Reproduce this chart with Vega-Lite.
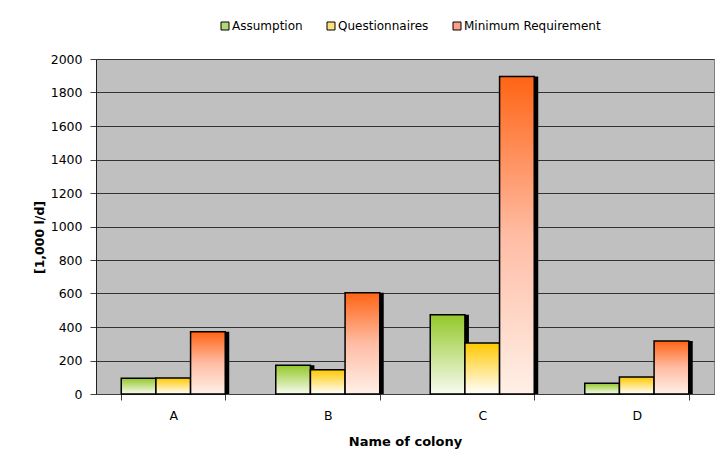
{
  "$schema": "https://vega.github.io/schema/vega-lite/v6.json",
  "width": 618,
  "height": 335,
  "autosize": {"type": "none"},
  "padding": {"left": 96, "top": 59, "right": 2, "bottom": 76},
  "background": "white",
  "config": {
    "view": {"fill": "#c0c0c0", "stroke": "#808080", "strokeWidth": 1},
    "font": "DejaVu Sans"
  },
  "data": {
    "values": [
      {"colony": "A", "series": "Assumption", "value": 94},
      {"colony": "A", "series": "Questionnaires", "value": 95},
      {"colony": "A", "series": "Minimum Requirement", "value": 372},
      {"colony": "B", "series": "Assumption", "value": 171},
      {"colony": "B", "series": "Questionnaires", "value": 145},
      {"colony": "B", "series": "Minimum Requirement", "value": 605},
      {"colony": "C", "series": "Assumption", "value": 473},
      {"colony": "C", "series": "Questionnaires", "value": 304},
      {"colony": "C", "series": "Minimum Requirement", "value": 1895},
      {"colony": "D", "series": "Assumption", "value": 64},
      {"colony": "D", "series": "Questionnaires", "value": 101},
      {"colony": "D", "series": "Minimum Requirement", "value": 316}
    ]
  },
  "encoding": {
    "x": {
      "field": "colony",
      "type": "nominal",
      "scale": {"paddingInner": 0.327, "paddingOuter": 0.1635},
      "axis": {
        "title": "Name of colony",
        "titleFontWeight": "bold",
        "titleFontSize": 13,
        "titleColor": "black",
        "titlePadding": 14,
        "labelAngle": 0,
        "labelFontSize": 12.5,
        "labelColor": "black",
        "labelPadding": 9,
        "tickBand": "extent",
        "tickSize": 6,
        "tickColor": "#404040",
        "domainColor": "#404040"
      }
    },
    "y": {
      "field": "value",
      "type": "quantitative",
      "scale": {"domain": [0, 2000], "nice": false},
      "axis": {
        "title": "[1,000 l/d]",
        "titleFontWeight": "bold",
        "titleFontSize": 12.5,
        "titleColor": "black",
        "titlePadding": 4,
        "titleY": 178,
        "values": [0, 200, 400, 600, 800, 1000, 1200, 1400, 1600, 1800, 2000],
        "format": "d",
        "labelFontSize": 12.5,
        "labelColor": "black",
        "labelPadding": 8,
        "tickSize": 6,
        "tickColor": "#404040",
        "domainColor": "#202020",
        "grid": true,
        "gridColor": "#333333",
        "gridWidth": 1,
        "gridOpacity": 1
      }
    }
  },
  "resolve": {"scale": {"xOffset": "independent"}},
  "layer": [
    {
      "mark": {"type": "bar", "fill": "black", "y2Offset": 3},
      "encoding": {
        "xOffset": {
          "field": "series",
          "type": "nominal",
          "sort": ["Assumption", "Questionnaires", "Minimum Requirement"],
          "scale": {"paddingInner": 0, "paddingOuter": 0, "range": [{"expr": "4"}, {"expr": "bandwidth('x') + 4"}]}
        }
      }
    },
    {
      "mark": {"type": "bar", "stroke": "black", "strokeWidth": 1.5},
      "encoding": {
        "xOffset": {
          "field": "series",
          "type": "nominal",
          "sort": ["Assumption", "Questionnaires", "Minimum Requirement"],
          "scale": {"paddingInner": 0, "paddingOuter": 0}
        },
        "fill": {
          "condition": [
            {
              "test": "datum.series === 'Assumption'",
              "value": {
                "gradient": "linear", "x1": 0, "y1": 0, "x2": 0, "y2": 1,
                "stops": [{"offset": 0, "color": "#94c82a"}, {"offset": 1, "color": "#f8fbf0"}]
              }
            },
            {
              "test": "datum.series === 'Questionnaires'",
              "value": {
                "gradient": "linear", "x1": 0, "y1": 0, "x2": 0, "y2": 1,
                "stops": [{"offset": 0, "color": "#ffc800"}, {"offset": 1, "color": "#ffffff"}]
              }
            }
          ],
          "value": {
            "gradient": "linear", "x1": 0, "y1": 0, "x2": 0, "y2": 1,
            "stops": [{"offset": 0, "color": "#ff6414"}, {"offset": 0.5, "color": "#ffbca4"}, {"offset": 1, "color": "#fff0e8"}]
          }
        }
      }
    },
    {
      "mark": {"type": "bar", "opacity": 0},
      "encoding": {
        "xOffset": {
          "field": "series",
          "type": "nominal",
          "sort": ["Assumption", "Questionnaires", "Minimum Requirement"],
          "scale": {"paddingInner": 0, "paddingOuter": 0}
        },
        "color": {
          "field": "series",
          "type": "nominal",
          "sort": ["Assumption", "Questionnaires", "Minimum Requirement"],
          "scale": {
            "domain": ["Assumption", "Questionnaires", "Minimum Requirement"],
            "range": ["#b0d878", "#ffe07a", "#ff9f86"]
          },
          "legend": {
            "orient": "none",
            "legendX": 123,
            "legendY": -39,
            "direction": "horizontal",
            "title": null,
            "symbolType": "square",
            "symbolSize": 64,
            "symbolStrokeColor": "black",
            "symbolStrokeWidth": 1,
            "symbolOpacity": 1,
            "columnPadding": 22,
            "labelFontSize": 12,
            "labelColor": "black",
            "labelOffset": 1,
            "padding": 0
          }
        }
      }
    }
  ]
}
